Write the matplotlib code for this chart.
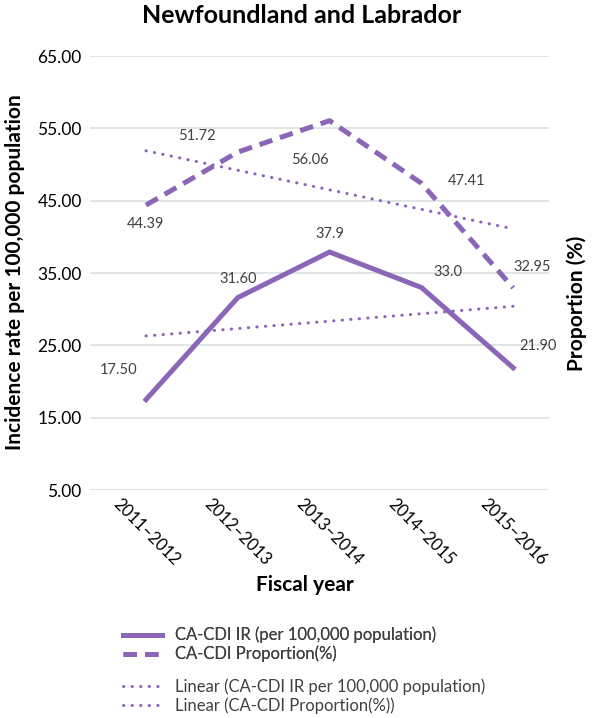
import matplotlib.pyplot as plt
import matplotlib.transforms as mtransforms
import numpy as np

years = ['2011–2012', '2012–2013', '2013–2014', '2014–2015', '2015–2016']
ir_values = [17.50, 31.60, 37.9, 33.0, 21.90]
prop_values = [44.39, 51.72, 56.06, 47.41, 32.95]
ir_labels = ['17.50', '31.60', '37.9', '33.0', '21.90']
prop_labels = ['44.39', '51.72', '56.06', '47.41', '32.95']
# linear trend end points
ir_trend = [26.3, 30.4]
prop_trend = [51.9, 41.1]

purple = '#8b66b7'
plt.rcParams['font.family'] = ['Lato', 'DejaVu Sans']

fig = plt.figure(figsize=(6, 7.18), dpi=100)
ax = fig.add_axes([0.15, 0.3175, 0.765, 0.6045])
x = np.arange(len(years))

l1, = ax.plot(x, ir_values, color=purple, lw=3.6, solid_joinstyle='miter',
              label='CA-CDI IR (per 100,000 population)')
l2, = ax.plot(x, prop_values, color=purple, lw=3.6, ls=(0, (2.7, 1.6)),
              label='CA-CDI Proportion(%)')
dot = (0, (0.1, 2.7))
l3, = ax.plot([x[0], x[-1]], ir_trend, color=purple, lw=2.2, ls=dot,
              dash_capstyle='round', label='Linear (CA-CDI IR per 100,000 population)')
l4, = ax.plot([x[0], x[-1]], prop_trend, color=purple, lw=2.2, ls=dot,
              dash_capstyle='round', label='Linear (CA-CDI Proportion(%))')

# label offsets in pixels (dx, dy)
ir_off = [(-27, 30), (0, 19), (0, 18), (27, 15), (25, 22)]
prop_off = [(0, -19), (-41, 16), (-20, -39), (45, 2), (19, 21)]
for i in range(len(years)):
    ax.annotate(ir_labels[i], (x[i], ir_values[i]), xytext=ir_off[i],
                textcoords='offset pixels', ha='center', va='center',
                fontsize=10.5, color='#404040')
    ax.annotate(prop_labels[i], (x[i], prop_values[i]), xytext=prop_off[i],
                textcoords='offset pixels', ha='center', va='center',
                fontsize=10.5, color='#404040')

ax.set_ylim(5, 65)
ax.set_xlim(-0.61, 4.39)
ax.set_yticks(np.arange(5, 66, 10))
ax.set_yticklabels(['%.2f' % v for v in np.arange(5, 66, 10)], fontsize=12.5)
ax.set_xticks(x)
ax.set_xticklabels(years, rotation=-45, ha='center', va='top', fontsize=12)
shift = mtransforms.ScaledTranslation(-6 / 100, 0, fig.dpi_scale_trans)
for lab in ax.get_xticklabels():
    lab.set_transform(lab.get_transform() + shift)
ax.tick_params(axis='y', length=0, pad=6)
ax.tick_params(axis='x', length=0, pad=4)
ax.grid(axis='y', color='#dde3e4', lw=1.3)
ax.set_axisbelow(True)
for s in ax.spines.values():
    s.set_visible(False)

fig.text(0.503, 0.978, 'Newfoundland and Labrador', ha='center', va='center',
         fontsize=18, fontweight='bold')
fig.text(0.025, 0.621, 'Incidence rate per 100,000 population', rotation=90,
         ha='center', va='center', fontsize=15, fontweight='bold')
fig.text(0.962, 0.578, 'Proportion (%)', rotation=90, ha='center', va='center',
         fontsize=15, fontweight='bold')
fig.text(0.508, 0.185, 'Fiscal year', ha='center', va='center',
         fontsize=15, fontweight='bold')

leg_kw = dict(loc='upper left', frameon=False, fontsize=12, handlelength=2.35,
              labelspacing=0.15, borderpad=0, borderaxespad=0, handletextpad=0.78,
              labelcolor='#404040')
leg1 = fig.legend(handles=[l1, l2], bbox_to_anchor=(0.205, 0.127), **leg_kw)
fig.legend(handles=[l3, l4], bbox_to_anchor=(0.205, 0.055), **leg_kw)
fig.add_artist(leg1)

fig.savefig('out.png', dpi=100)
